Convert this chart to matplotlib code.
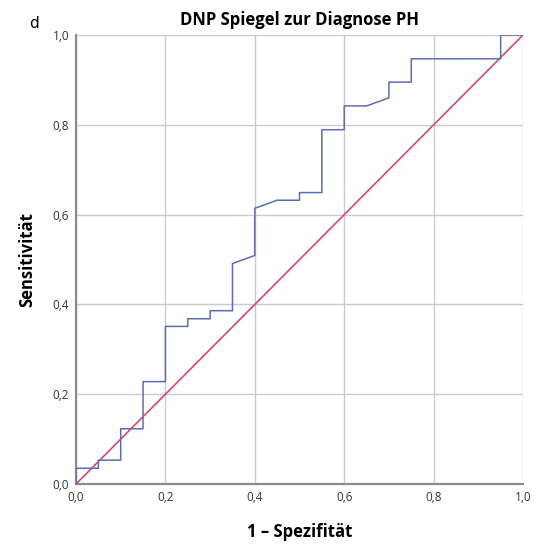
import matplotlib
matplotlib.use("Agg")
import matplotlib.pyplot as plt
from matplotlib.ticker import FuncFormatter

# ROC curve points (1 - specificity, sensitivity)
fpr = [0.00, 0.00, 0.05, 0.05, 0.10, 0.10, 0.15, 0.15, 0.20, 0.20, 0.25, 0.25,
       0.30, 0.30, 0.35, 0.35, 0.40, 0.40, 0.45, 0.50, 0.50, 0.55, 0.55, 0.60,
       0.60, 0.65, 0.70, 0.70, 0.75, 0.75, 0.95, 0.95, 1.00]
tpr = [0.000, 0.035, 0.035, 0.053, 0.053, 0.123, 0.123, 0.228, 0.228, 0.351, 0.351, 0.368,
       0.368, 0.386, 0.386, 0.491, 0.509, 0.614, 0.632, 0.632, 0.649, 0.649, 0.789, 0.789,
       0.842, 0.842, 0.860, 0.895, 0.895, 0.947, 0.947, 1.000, 1.000]
ref_line = [0.0, 1.0]
ticks = [0.0, 0.2, 0.4, 0.6, 0.8, 1.0]

plt.rcParams['font.family'] = ['Open Sans', 'DejaVu Sans']

fig = plt.figure(figsize=(5.48, 5.47), dpi=100)
ax = fig.add_axes([0.1387, 0.1152, 0.8157, 0.8208])

ax.plot(ref_line, ref_line, color='#d9486c', lw=1.2, zorder=3)
ax.plot(fpr, tpr, color='#5b6cb8', lw=1.1, zorder=4)

ax.set_xlim(0, 1)
ax.set_ylim(0, 1)
ax.set_xticks(ticks)
ax.set_yticks(ticks)
fmt = FuncFormatter(lambda v, p: f"{v:.1f}".replace('.', ','))
ax.xaxis.set_major_formatter(fmt)
ax.yaxis.set_major_formatter(fmt)
ax.tick_params(length=0, labelsize=8.5, colors='#333333', pad=5)
ax.grid(True, color='#cbcbcb', lw=1.0, zorder=0)

for side in ['top', 'right']:
    ax.spines[side].set_visible(False)
for side in ['bottom', 'left']:
    ax.spines[side].set_color('#8c8c8c')
    ax.spines[side].set_linewidth(1.6)

ax.set_xlabel('1 – Spezifität', fontsize=12, fontweight='bold', labelpad=14)
ax.set_ylabel('Sensitivität', fontsize=12, fontweight='bold', labelpad=12)
ax.set_title('DNP Spiegel zur Diagnose PH', fontsize=12, fontweight='bold', pad=7)
fig.text(0.062, 0.957, 'd', fontsize=11, ha='center', va='center',
         family='DejaVu Sans')

fig.savefig('out.png', dpi=100, facecolor='white')
